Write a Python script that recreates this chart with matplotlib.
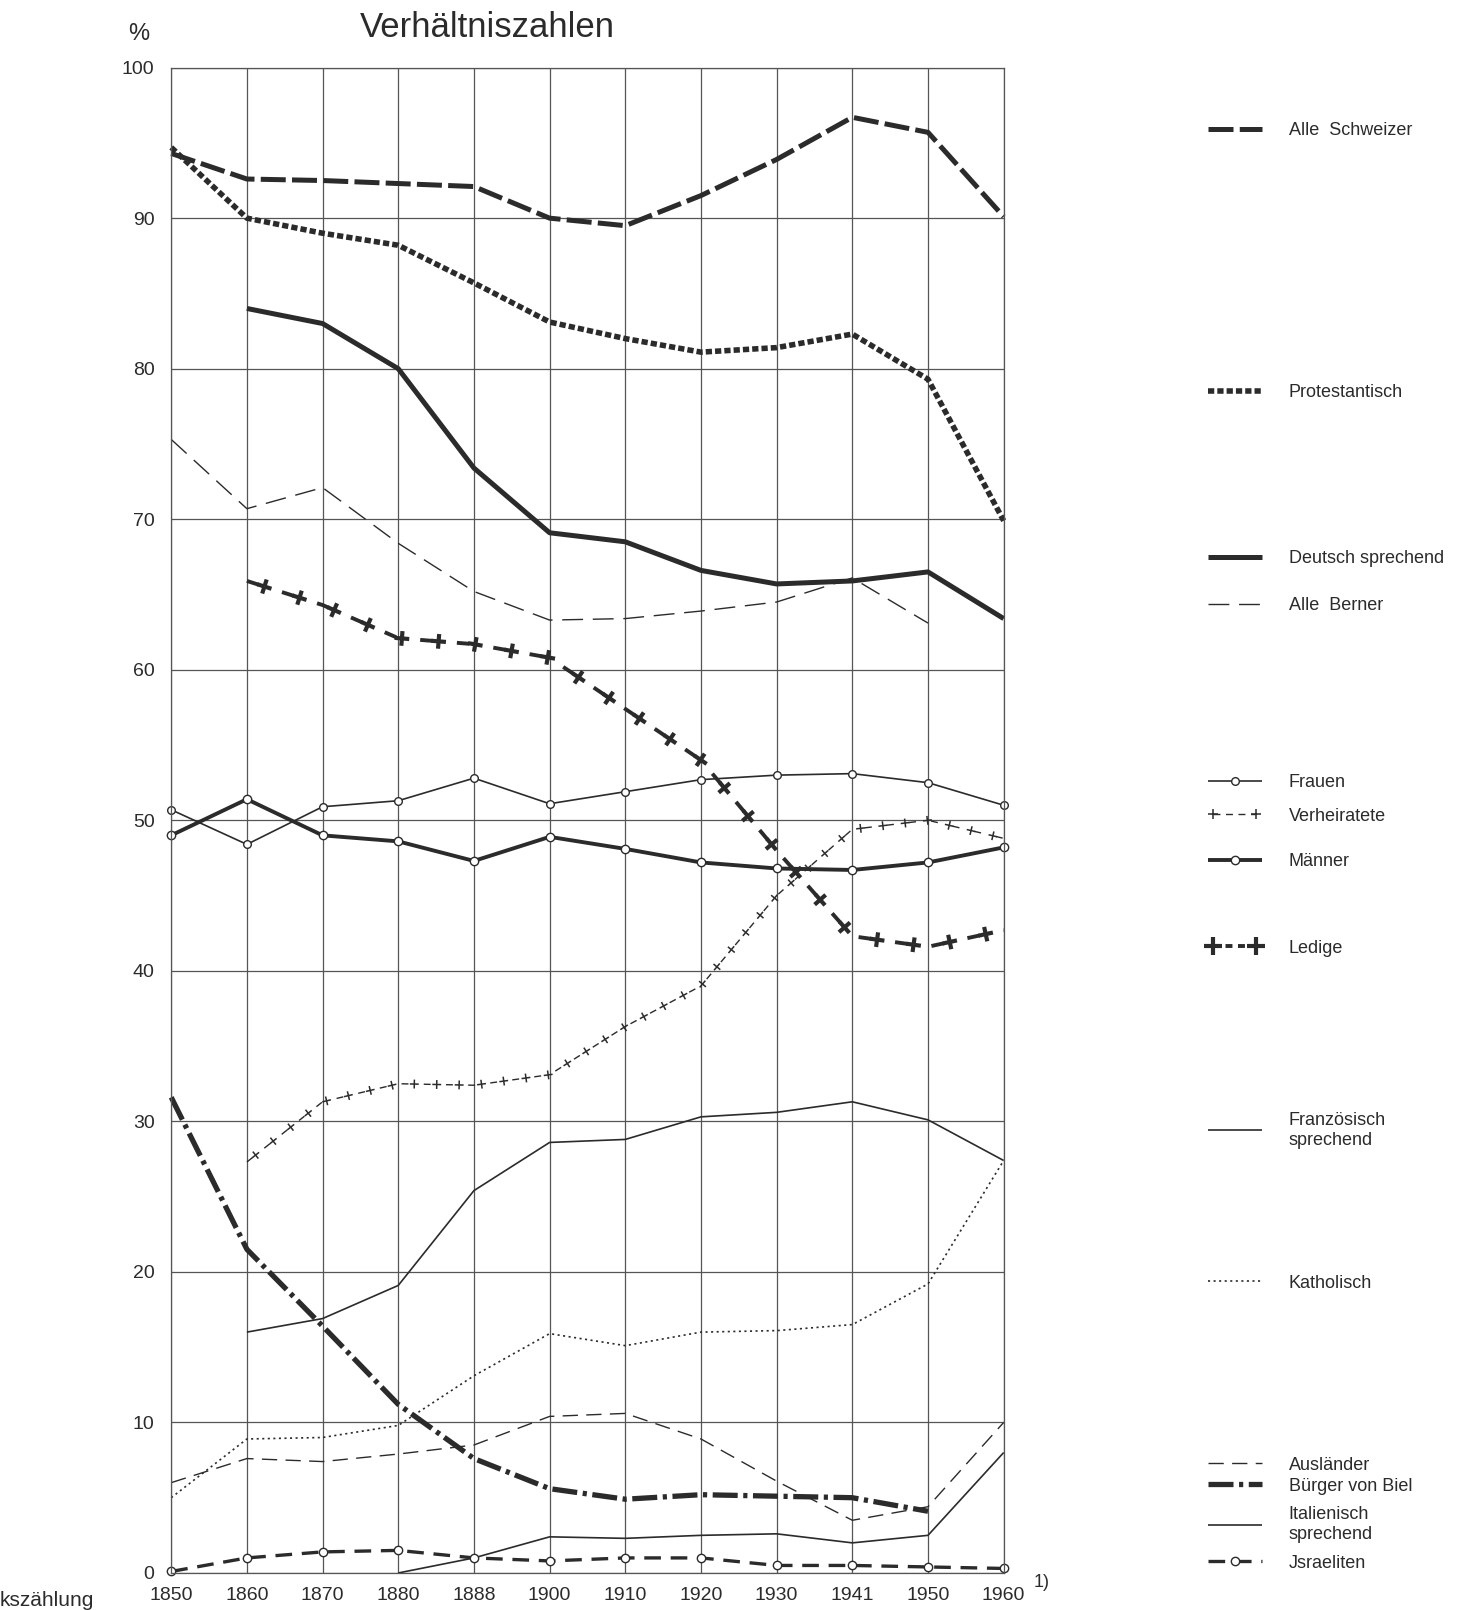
import numpy as np
import matplotlib
matplotlib.use("Agg")
import matplotlib.pyplot as plt
import matplotlib.patheffects as pe
from matplotlib.lines import Line2D

plt.rcParams['font.family'] = ['Liberation Sans', 'DejaVu Sans']
plt.rcParams['lines.scale_dashes'] = False

nan = np.nan
years = ['1850', '1860', '1870', '1880', '1888', '1900', '1910', '1920', '1930', '1941', '1950', '1960']

alle_schweizer = [94.3, 92.6, 92.5, 92.3, 92.1, 90.0, 89.5, 91.5, 93.9, 96.7, 95.7, 90.1]
protestantisch = [94.7, 90.0, 89.0, 88.2, 85.7, 83.1, 82.0, 81.1, 81.4, 82.3, 79.3, 69.9]
deutsch = [nan, 84.0, 83.0, 80.0, 73.4, 69.1, 68.5, 66.6, 65.7, 65.9, 66.5, 63.4]
alle_berner = [75.3, 70.7, 72.1, 68.4, 65.2, 63.3, 63.4, 63.9, 64.5, 66.1, 63.1, nan]
frauen = [50.7, 48.4, 50.9, 51.3, 52.8, 51.1, 51.9, 52.7, 53.0, 53.1, 52.5, 51.0]
maenner = [49.0, 51.4, 49.0, 48.6, 47.3, 48.9, 48.1, 47.2, 46.8, 46.7, 47.2, 48.2]
verheiratete = [nan, 27.3, 31.3, 32.5, 32.4, 33.1, 36.3, 39.0, 45.0, 49.4, 50.0, 48.8]
ledige = [nan, 65.9, 64.3, 62.1, 61.7, 60.8, 57.4, 54.0, 48.0, 42.3, 41.6, 42.7]
franzoesisch = [nan, 16.0, 16.9, 19.1, 25.4, 28.6, 28.8, 30.3, 30.6, 31.3, 30.1, 27.4]
katholisch = [5.0, 8.9, 9.0, 9.8, 13.1, 15.9, 15.1, 16.0, 16.1, 16.5, 19.2, 27.4]
auslaender = [6.0, 7.6, 7.4, 7.9, 8.5, 10.4, 10.6, 8.9, 6.1, 3.5, 4.4, 10.0]
buerger = [31.6, 21.5, 16.4, 11.2, 7.6, 5.6, 4.9, 5.2, 5.1, 5.0, 4.1, nan]
italienisch = [nan, nan, nan, 0.0, 1.0, 2.4, 2.3, 2.5, 2.6, 2.0, 2.5, 8.0]
israeliten = [0.1, 1.0, 1.4, 1.5, 1.0, 0.8, 1.0, 1.0, 0.5, 0.5, 0.4, 0.3]

ink = '#2b2b2b'
x = np.arange(len(years))

fig = plt.figure(figsize=(14.76, 16.10), dpi=100)
ax = fig.add_axes([0.116, 0.023, 0.564, 0.935])


def crosses(spacing, arm, lw):
    # little "+" signs strung along the line
    return [pe.TickedStroke(spacing=spacing, angle=a, length=arm, linewidth=lw,
                            capstyle='butt')
            for a in (90, -90, 0, 180)]


styles = [
    ('Alle  Schweizer', alle_schweizer, dict(lw=3.6, dashes=(18, 4.5)), None),
    ('Protestantisch', protestantisch, dict(lw=4.0, dashes=(4.5, 2.2)), None),
    ('Deutsch sprechend', deutsch, dict(lw=3.6), None),
    ('Alle  Berner', alle_berner, dict(lw=1.0, dashes=(15, 7)), None),
    ('Frauen', frauen, dict(lw=1.2, marker='o', ms=5.5, mfc='white', mew=1.0), None),
    ('Verheiratete', verheiratete, dict(lw=1.0, dashes=(5, 11)), (16, 0.2, 1.1)),
    ('Männer', maenner, dict(lw=2.8, marker='o', ms=6, mfc='white', mew=1.0), None),
    ('Ledige', ledige, dict(lw=2.8, dashes=(9, 17.5)), (26.5, 0.2, 3.0)),
    ('Französisch\nsprechend', franzoesisch, dict(lw=1.2), None),
    ('Katholisch', katholisch, dict(lw=1.2, dashes=(1.5, 2.5)), None),
    ('Ausländer', auslaender, dict(lw=1.0, dashes=(11, 6)), None),
    ('Bürger von Biel', buerger, dict(lw=3.8, dashes=(18, 4, 3, 4)), None),
    ('Italienisch\nsprechend', italienisch, dict(lw=1.2), None),
    ('Jsraeliten', israeliten, dict(lw=2.4, dashes=(12, 7), marker='o', ms=6, mfc='white', mew=1.0), None),
]

handles = {}
for label, vals, kw, cross in styles:
    v = np.array(vals, dtype=float)
    ok = ~np.isnan(v)
    ln, = ax.plot(x[ok], v[ok], color=ink, clip_on=False,
                  solid_capstyle='butt', dash_capstyle='butt', **kw)
    handles[label] = ln
    if cross is not None:
        sp, arm, clw = cross
        ax.plot(x[ok], v[ok], color=ink, lw=0.01, clip_on=False,
                path_effects=crosses(sp, arm, clw))
        handles[label] = Line2D([], [], color=ink, lw=kw['lw'], dashes=(5, 4),
                                marker='+', ms=5 + 2.5 * clw, mew=clw)

ax.set_xlim(0, len(years) - 1)
ax.set_ylim(0, 100)
ax.set_xticks(x)
ax.set_xticklabels(years)
ax.set_yticks(np.arange(0, 101, 10))
ax.set_yticklabels(['0', '10', '20', '30', '40', '50', '60', '70', '80', '90', '100'])
ax.tick_params(length=0, labelsize=14, colors=ink)
ax.tick_params(axis='y', pad=12)
ax.tick_params(axis='x', pad=10)
ax.grid(True, color='#555555', lw=0.9)
ax.set_axisbelow(True)
for s in ax.spines.values():
    s.set_color('#555555')
    s.set_linewidth(0.9)

fig.text(0.33, 0.983, 'Verhältniszahlen', fontsize=25, color=ink, ha='center', va='center')
fig.text(0.094, 0.979, '%', fontsize=17, color=ink, ha='center', va='center')
fig.text(0.0, 0.006, 'kszählung', fontsize=15, color=ink, ha='left', va='center')
fig.text(0.700, 0.017, '1)', fontsize=13, color=ink, ha='left', va='center')

# legend entries spread down the right side
leg_pos = [
    ('Alle  Schweizer', 0.919), ('Protestantisch', 0.756), ('Deutsch sprechend', 0.653),
    ('Alle  Berner', 0.624), ('Frauen', 0.514), ('Verheiratete', 0.493), ('Männer', 0.465),
    ('Ledige', 0.411), ('Französisch\nsprechend', 0.298), ('Katholisch', 0.203),
    ('Ausländer', 0.090), ('Bürger von Biel', 0.077), ('Italienisch\nsprechend', 0.053),
    ('Jsraeliten', 0.029),
]
for label, yy in leg_pos:
    h = handles[label]
    npts = 2 if label in ('Ledige', 'Verheiratete') else 1
    fig.legend(handles=[h], labels=[label], loc='center left', bbox_to_anchor=(0.812, yy),
               frameon=False, fontsize=13, handlelength=3.0, handletextpad=1.5,
               numpoints=npts, markerscale=1.0, labelcolor=ink, borderpad=0.0)

fig.savefig('out.png', dpi=100, facecolor='white')
